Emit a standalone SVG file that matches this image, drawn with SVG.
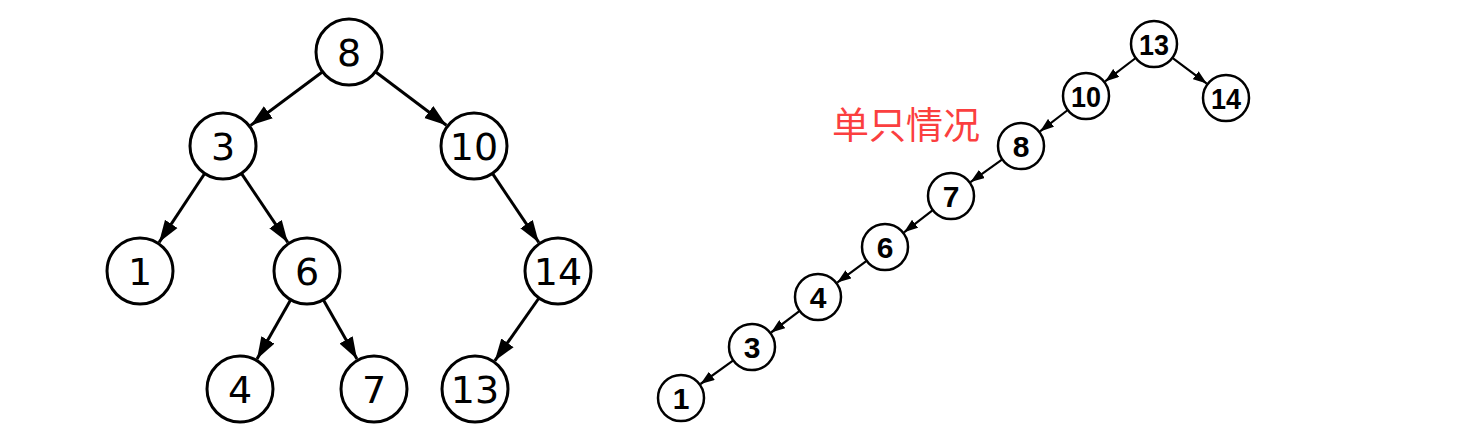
<svg xmlns="http://www.w3.org/2000/svg" width="1484" height="443" viewBox="0 0 1484 443">
<style>
.bn circle{fill:#fff;stroke:#000;stroke-width:3}
.bn text{font-family:"DejaVu Sans",sans-serif;font-size:38px;fill:#000;text-anchor:middle}
.sn circle{fill:#fff;stroke:#000;stroke-width:2.5}
.sn text{font-family:"Liberation Sans",Arial,sans-serif;font-weight:bold;font-size:30px;fill:#000;text-anchor:middle}
.be{stroke:#000;stroke-width:3;fill:none;marker-end:url(#ab)}
.se{stroke:#000;stroke-width:2.2;fill:none;marker-end:url(#as)}
.lbl{font-family:"Noto Sans CJK SC","Noto Sans",sans-serif;font-size:37px;fill:#fb3f3f}
</style>
<defs>
<marker id="ab" markerUnits="userSpaceOnUse" markerWidth="22" markerHeight="16" viewBox="0 0 22 16" refX="22" refY="8" orient="auto"><path d="M0,0.5 L22,8 L0,15.5 z" fill="#000"/></marker>
<marker id="as" markerUnits="userSpaceOnUse" markerWidth="14" markerHeight="10" viewBox="0 0 14 10" refX="14" refY="5" orient="auto"><path d="M0,0 L14,5 L0,10 z" fill="#000"/></marker>
</defs>
<rect width="1484" height="443" fill="#fff"/>
<g id="connectors">
<line class="be" x1="322.6" y1="71.7" x2="250.7" y2="125.4"/>
<line class="be" x1="375.4" y1="71.8" x2="446.4" y2="125.3"/>
<line class="be" x1="204.7" y1="173.5" x2="159.1" y2="242.3"/>
<line class="be" x1="241.4" y1="173.4" x2="287.8" y2="242.4"/>
<line class="be" x1="492.4" y1="173.4" x2="538.8" y2="242.4"/>
<line class="be" x1="290.7" y1="299.7" x2="257.0" y2="359.0"/>
<line class="be" x1="323.3" y1="299.7" x2="357.0" y2="359.0"/>
<line class="be" x1="539.0" y1="298.0" x2="494.8" y2="360.8"/>
<line class="se" x1="1135.7" y1="58.0" x2="1105.1" y2="81.4"/>
<line class="se" x1="1172.4" y1="57.8" x2="1206.8" y2="83.6"/>
<line class="se" x1="1067.8" y1="110.0" x2="1040.0" y2="131.4"/>
<line class="se" x1="1002.3" y1="159.4" x2="970.5" y2="182.1"/>
<line class="se" x1="932.8" y1="210.1" x2="904.0" y2="232.3"/>
<line class="se" x1="866.6" y1="260.8" x2="837.2" y2="282.6"/>
<line class="se" x1="799.7" y1="310.9" x2="771.1" y2="332.5"/>
<line class="se" x1="733.3" y1="360.4" x2="700.5" y2="384.0"/>
</g>
<g id="L8" class="bn"><circle cx="349" cy="52" r="33"/><text x="349" y="66">8</text></g>
<g id="L3" class="bn"><circle cx="223" cy="146" r="33"/><text x="223" y="160">3</text></g>
<g id="L10" class="bn"><circle cx="474" cy="146" r="33"/><text x="474" y="160">10</text></g>
<g id="L1" class="bn"><circle cx="140" cy="271" r="33"/><text x="140" y="285">1</text></g>
<g id="L6" class="bn"><circle cx="307" cy="271" r="33"/><text x="307" y="285">6</text></g>
<g id="L14" class="bn"><circle cx="558" cy="271" r="33"/><text x="558" y="285">14</text></g>
<g id="L4" class="bn"><circle cx="240" cy="389" r="33"/><text x="240" y="403">4</text></g>
<g id="L7" class="bn"><circle cx="374" cy="389" r="33"/><text x="374" y="403">7</text></g>
<g id="L13" class="bn"><circle cx="475" cy="389" r="33"/><text x="475" y="403">13</text></g>
<text id="label" class="lbl" x="832" y="139">单只情况</text>
<g id="R13" class="sn"><circle cx="1154" cy="44" r="23"/><text x="1154" y="55" textLength="30" lengthAdjust="spacingAndGlyphs">13</text></g>
<g id="R10" class="sn"><circle cx="1086" cy="96" r="23"/><text x="1086" y="107" textLength="30" lengthAdjust="spacingAndGlyphs">10</text></g>
<g id="R14" class="sn"><circle cx="1226" cy="98" r="23"/><text x="1226" y="109" textLength="30" lengthAdjust="spacingAndGlyphs">14</text></g>
<g id="R8" class="sn"><circle cx="1021" cy="146" r="23"/><text x="1021" y="157">8</text></g>
<g id="R7" class="sn"><circle cx="951" cy="196" r="23"/><text x="951" y="207">7</text></g>
<g id="R6" class="sn"><circle cx="885" cy="247" r="23"/><text x="885" y="258">6</text></g>
<g id="R4" class="sn"><circle cx="818" cy="297" r="23"/><text x="818" y="308">4</text></g>
<g id="R3" class="sn"><circle cx="752" cy="347" r="23"/><text x="752" y="358">3</text></g>
<g id="R1" class="sn"><circle cx="681" cy="398" r="23"/><text x="681" y="409">1</text></g>
</svg>
